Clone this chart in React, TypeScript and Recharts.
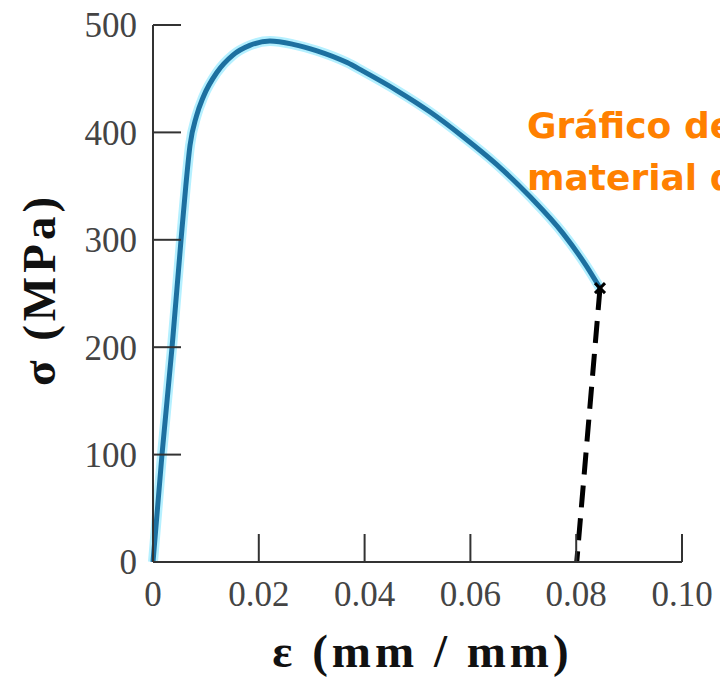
import React from 'react';
import { ComposedChart, Line, Scatter, XAxis, YAxis, Label } from 'recharts';

// curva tensão x deformação (leitura do gráfico)
const strainValues = [0, 0.0017, 0.0036, 0.0053, 0.0062, 0.007, 0.0082, 0.0095, 0.0121, 0.0151, 0.0183, 0.0221, 0.0265, 0.031, 0.0367, 0.0397, 0.0461, 0.0524, 0.0586, 0.065, 0.0713, 0.0775, 0.082, 0.0845];
const stressValues = [0, 100, 200, 300, 350, 388, 415, 433, 456, 472, 481, 485, 482, 476, 465, 457, 439, 419, 396, 370, 340, 306, 275, 255];

// descarga elástica após a ruptura (tracejado)
const unloadStrain = [0.0845, 0.0801];
const unloadStress = [255, 0];

const xTicks = [0, 0.02, 0.04, 0.06, 0.08, 0.1];
const xTickLabels = ['0', '0.02', '0.04', '0.06', '0.08', '0.10'];
const yTicks = [0, 100, 200, 300, 400, 500];

const curveData = strainValues.map((s, i) => ({ strain: s, stress: stressValues[i] }));
const unloadData = unloadStrain.map((s, i) => ({ strain: s, stress: unloadStress[i] }));
const fractureData = [curveData[curveData.length - 1]];

const CrossMark = ({ cx, cy }: any) => (
  <path
    d={`M${cx - 5},${cy - 5}L${cx + 5},${cy + 5}M${cx + 5},${cy - 5}L${cx - 5},${cy + 5}`}
    stroke="#000"
    strokeWidth={3}
  />
);

const tickStyle = { fontSize: 35, fill: '#444', fontFamily: '"Liberation Serif", serif' };
const titleStyle = { fontSize: 47, fill: '#111', fontFamily: '"Liberation Serif", serif', fontWeight: 700 };

export default function App() {
  return (
    <div style={{ position: 'absolute', left: 0, top: 0, width: 720, height: 679, overflow: 'hidden', background: '#fff' }}>
      <ComposedChart width={720} height={679} margin={{ top: 25, right: 38, left: 0, bottom: 0 }}>
        <XAxis
          type="number"
          dataKey="strain"
          domain={[0, 0.1]}
          ticks={xTicks}
          interval={0}
          tickFormatter={(v: number) => xTickLabels[xTicks.indexOf(v)] ?? String(v)}
          height={117}
          tickSize={-28}
          tickMargin={47}
          stroke="#333"
          strokeWidth={2}
          tick={tickStyle}
        >
          <Label
            value="ε (mm / mm)"
            position="insideBottom"
            offset={12}
            dx={5}
            style={{ ...titleStyle, letterSpacing: 4 }}
          />
        </XAxis>
        <YAxis
          type="number"
          dataKey="stress"
          domain={[0, 500]}
          ticks={yTicks}
          interval={0}
          width={153}
          tickSize={-28}
          tickMargin={44}
          stroke="#333"
          strokeWidth={2}
          tick={tickStyle}
        >
          <Label
            value="σ (MPa)"
            angle={-90}
            position="insideLeft"
            offset={38}
            dy={-4}
            style={{ ...titleStyle, letterSpacing: 4, textAnchor: 'middle' }}
          />
        </YAxis>
        <Line
          data={curveData}
          dataKey="stress"
          type="monotone"
          stroke="#b5f0ff"
          strokeWidth={10}
          dot={false}
          activeDot={false}
          isAnimationActive={false}
        />
        <Line
          data={curveData}
          dataKey="stress"
          type="monotone"
          stroke="#1d70a0"
          strokeWidth={5}
          dot={false}
          activeDot={false}
          isAnimationActive={false}
        />
        <Line
          data={unloadData}
          dataKey="stress"
          type="linear"
          stroke="#000"
          strokeWidth={5}
          strokeDasharray="22 11"
          dot={false}
          activeDot={false}
          isAnimationActive={false}
        />
        <Scatter data={fractureData} dataKey="stress" shape={<CrossMark />} isAnimationActive={false} />
      </ComposedChart>
      <div
        style={{
          position: 'absolute',
          left: 527,
          top: 100,
          color: '#ff8000',
          fontFamily: '"DejaVu Sans", sans-serif',
          fontWeight: 700,
          fontSize: 36,
          lineHeight: '52px',
          whiteSpace: 'nowrap',
        }}
      >
        <div>Gráfico de</div>
        <div>material dúctil</div>
      </div>
    </div>
  );
}
